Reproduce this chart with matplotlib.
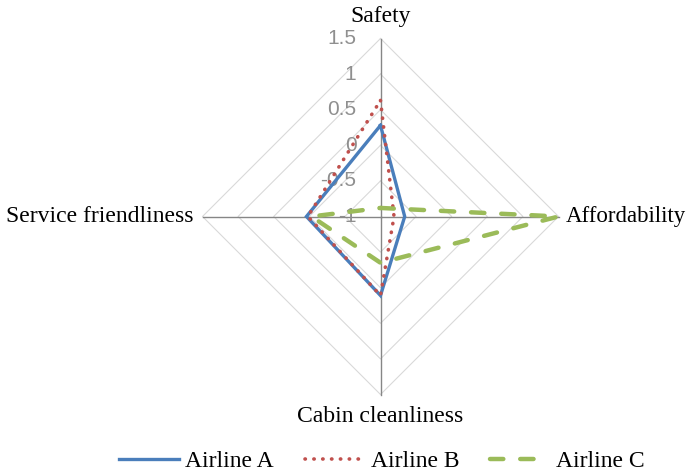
import numpy as np
import matplotlib
matplotlib.use("Agg")
import matplotlib.pyplot as plt
from matplotlib.lines import Line2D

# ---- data ----
categories = ["Safety", "Affordability", "Cabin cleanliness", "Service friendliness"]
airline_a = [0.28, -0.66, 0.11, 0.04]
airline_b = [0.63, -0.81, 0.11, 0.02]
airline_c = [-0.88, 1.50, -0.35, -0.03]
series_names = ["Airline A", "Airline B", "Airline C"]
tick_values = [-1, -0.5, 0, 0.5, 1, 1.5]
tick_labels = ["-1", "-0.5", "0", "0.5", "1", "1.5"]
r_min, r_max = -1.0, 1.5

# ---- geometry helpers ----
n = len(categories)
angles = np.pi / 2 - np.arange(n) * 2 * np.pi / n  # clockwise from top


def to_xy(values):
    r = np.asarray(values, dtype=float) - r_min
    x = r * np.cos(angles)
    y = r * np.sin(angles)
    return np.append(x, x[0]), np.append(y, y[0])


W, H = 688, 475
cx, cy = 380.5, 216.5
ppu = 178.0 / (r_max - r_min)

fig = plt.figure(figsize=(W / 100, H / 100), dpi=100)
ax = fig.add_axes([0, 0, 1, 1])
ax.set_xlim(-cx / ppu, (W - cx) / ppu)
ax.set_ylim(-(H - cy) / ppu, cy / ppu)
ax.axis("off")

# grid diamonds
for tv in tick_values[1:]:
    gx, gy = to_xy([tv] * n)
    ax.plot(gx, gy, color="#d9d9d9", lw=0.8, zorder=1)
# spokes
R = r_max - r_min
for a in angles:
    ax.plot([0, R * np.cos(a)], [0, R * np.sin(a)], color="#868686", lw=1.0, zorder=2)

# tick labels
serif = "Liberation Serif"
fs = 17
for tv, tl in zip(tick_values, tick_labels):
    ax.text(-24 / ppu, tv - r_min, tl, ha="right", va="center",
            fontsize=15, color="#8f8f8f", family="Liberation Sans", zorder=3)

# category labels
off = 22 / ppu
ax.text(0, R + off, categories[0], ha="center", va="center", fontsize=fs, family=serif)
ax.text(R + 7 / ppu, 0, categories[1], ha="left", va="center", fontsize=16.5, family=serif)
ax.text(0, -R - off, categories[2], ha="center", va="center", fontsize=fs, family=serif)
ax.text(-R - 9 / ppu, 0, categories[3], ha="right", va="center", fontsize=fs, family=serif)

# series
styles = [
    dict(color="#4a7ebb", lw=2.4, linestyle="-", solid_joinstyle="miter"),
    dict(color="#c0504d", lw=2.6, linestyle=(0, (0.1, 2.35)), dash_capstyle="round"),
    dict(color="#9bbb59", lw=3.2, linestyle=(0, (3.0, 3.8)), dash_capstyle="round"),
]
handles = []
for vals, name, st in zip([airline_a, airline_b, airline_c], series_names, styles):
    x, y = to_xy(vals)
    ax.plot(x, y, zorder=4, **st)
    handles.append(Line2D([], [], label=name, **st))

fig.legend(handles=handles, loc="center", bbox_to_anchor=(382 / W, 1 - 461 / H), ncol=3,
           frameon=False, prop={"family": serif, "size": fs},
           handlelength=2.55, handletextpad=0.25, columnspacing=1.3, borderpad=0)

fig.savefig("out.png", dpi=100)
